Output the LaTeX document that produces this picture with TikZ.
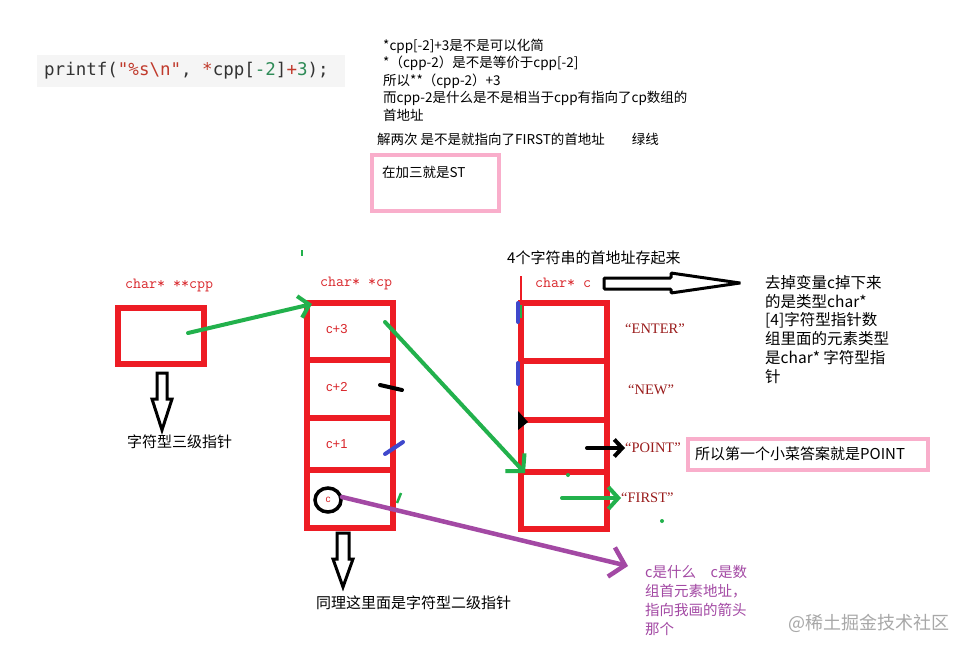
\documentclass[tikz,border=0pt]{standalone}
\usepackage{fontspec}
\setmainfont{Noto Sans CJK SC}
\newfontfamily\monof{DejaVu Sans Mono}
\newfontfamily\serf{Liberation Serif}
\newfontfamily\sansf{Liberation Sans}
\usetikzlibrary{arrows.meta}
\definecolor{pred}{HTML}{ED1C24}
\definecolor{pgreen}{HTML}{22B14C}
\definecolor{ppurple}{HTML}{A349A4}
\definecolor{pblue}{HTML}{3F48CC}
\definecolor{ppink}{HTML}{F9AECB}
\definecolor{lblred}{HTML}{D9262B}
\definecolor{strred}{HTML}{9A1C1C}
\definecolor{codebg}{HTML}{F5F5F5}
\definecolor{codedark}{HTML}{333333}
\definecolor{codered}{HTML}{C0392B}
\definecolor{codegreen}{HTML}{2E8B57}
\definecolor{wmgray}{HTML}{A8A8A8}
\tikzset{
  lbl/.style={inner sep=0pt, anchor=west},
  cjk/.style={lbl, font=\fontsize{15}{19}\selectfont},
  redlbl/.style={lbl, text=lblred, font=\ttfamily\fontsize{15.5}{15.5}\selectfont},
  celllbl/.style={lbl, text=lblred, font=\sansf\fontsize{13}{13}\selectfont},
  strlbl/.style={lbl, text=strred, font=\serf\fontsize{14.5}{14.5}\selectfont},
  redframe/.style={draw=pred, line width=6pt},
  pinkframe/.style={draw=ppink, line width=4pt},
  garrow/.style={draw=pgreen, line width=4pt, line cap=round, -{Straight Barb[length=10pt,width=22pt,line width=4pt]}},
  parrow/.style={draw=ppurple, line width=4.5pt, line cap=round, -{Straight Barb[length=14pt,width=30pt,line width=4.5pt]}},
  karrow/.style={draw=black, line width=4pt, line cap=round, -{Straight Barb[length=8pt,width=17pt,line width=4pt]}},
  stroke/.style={line width=4pt, line cap=round},
  hollow/.style={draw=black, line width=3pt, line join=miter, fill=white}
}
\begin{document}
\begin{tikzpicture}[x=1pt,y=-1pt]
\useasboundingbox[fill=white] (0,0) rectangle (968,654);

% code line
\fill[codebg] (37,55) rectangle (345,87);
\node[lbl, font=\monof\fontsize{17.5}{17.5}\selectfont] (code) at (44,71)
 {{\color{codedark}printf(}{\color{codered}"\%s\textbackslash n"}{\color{codedark}, }{\color{codered}*}{\color{codedark}cpp[}{\color{codegreen}-2}{\color{codedark}]}{\color{codered}+}{\color{codegreen}3}{\color{codedark});}};

% top notes
\node[inner sep=0pt, anchor=north west, align=left, font=\fontsize{13.5}{17.5}\selectfont] (notes) at (383,38.5)
 {*cpp[-2]+3是不是可以化简\\*（cpp-2）是不是等价于cpp[-2]\\所以**（cpp-2）+3\\而cpp-2是什么是不是相当于cpp有指向了cp数组的\\首地址};
\node[lbl, font=\fontsize{13.5}{13.5}\selectfont] (twice) at (377,139) {解两次 是不是就指向了FIRST的首地址\qquad 绿线};
\draw[pinkframe] (372,155) rectangle (499,211);
\node[lbl, font=\fontsize{13.5}{13.5}\selectfont] (plus3) at (382,172) {在加三就是ST};

% cpp
\node[redlbl] (cpplbl) at (125,285) {char* **cpp};
\node[redframe, minimum width=86pt, minimum height=56pt, inner sep=0pt] (cppbox) at (161,336) {};
\draw[hollow] (157,373) -- (167,373) -- (167,399) -- (172,399) -- (162,430) -- (152,399) -- (157,399) -- cycle;
\node[cjk] (lvl3) at (127,442) {字符型三级指针};

% cp array
\draw[pgreen, line width=1.5pt] (302,250) -- (302,256);
\node[redlbl] (cplbl) at (320,283) {char* *cp};
\draw[redframe] (307,303) rectangle (393,528);
\draw[redframe] (307,360) -- (393,360) (307,418) -- (393,418) (307,470) -- (393,470);
\node[celllbl] (c3) at (326,329) {c+3};
\node[celllbl] (c2) at (326,387) {c+2};
\node[celllbl] (c1) at (326,444) {c+1};
\node[celllbl, font=\sansf\fontsize{10}{10}\selectfont, anchor=center] (c0) at (328,500) {c};
\draw[black, line width=3.5pt] (c0) ellipse (13pt and 12pt);
\draw[stroke, black] (380,385) -- (402,390);
\draw[stroke, pblue] (385,454) -- (403,442);
\draw[pgreen, line width=2.5pt] (397,503) -- (401,493);
\draw[hollow] (337,533) -- (349,533) -- (349,559) -- (353,559) -- (343,587) -- (333,559) -- (337,559) -- cycle;
\node[cjk] (lvl2) at (316,603) {同理这里面是字符型二级指针};

% c array
\node[cjk] (store) at (507,258) {4个字符串的首地址存起来};
\draw[pred, line width=1.5pt] (521,276) -- (521,300);
\node[redlbl] (clbl) at (535,283) {char* c};
\draw[redframe] (521,303) rectangle (607,529);
\draw[redframe] (521,361) -- (607,361) (521,420) -- (607,420) (521,472) -- (607,472);
\draw[stroke, pblue] (518,303) -- (518,322);
\draw[pgreen, line width=1.5pt] (521,305) -- (521,318);
\draw[stroke, pblue] (518,363) -- (518,384);
\fill[black] (518,411) -- (528,422) -- (518,430) -- cycle;
\node[strlbl] (enter) at (625,329) {“ENTER”};
\node[strlbl] (new) at (628,390) {“NEW”};
\node[strlbl] (point) at (625,448) {“POINT”};
\node[strlbl] (first) at (621,498) {“FIRST”};
\fill[pgreen] (568,475) circle (2pt) (662,521) circle (2pt);

% right hollow arrow and explanation
\draw[hollow, rounded corners=1pt] (604,278) -- (671,278) -- (671,273) -- (740,283) -- (671,293) -- (671,289) -- (604,289) -- cycle;
\node[inner sep=0pt, anchor=north west, align=left, font=\fontsize{15.5}{18.8}\selectfont] (expl) at (765,275)
 {去掉变量c掉下来\\的是类型char*\\{}[4]字符型指针数\\组里面的元素类型\\是char* 字符型指\\针};

% answer box
\draw[pinkframe] (688,439) rectangle (928,470);
\node[cjk] (answer) at (695,454) {所以第一个小菜答案就是POINT};

% purple note
\node[inner sep=0pt, anchor=north west, align=left, text=ppurple, font=\fontsize{14.5}{19}\selectfont] (cnote) at (645,565)
 {c是什么\quad c是数\\组首元素地址，\\指向我画的箭头\\那个};
\node[lbl, text=wmgray, font=\fontsize{18}{18}\selectfont] (wm) at (788,623) {@稀土掘金技术社区};

% connectors
\coordinate (g1s) at (188,333);
\coordinate (g1e) at (312,304);
\draw[garrow] (g1s) -- (g1e);
\coordinate (g2s) at (385,322);
\coordinate (g2e) at (525,473);
\draw[garrow, -{Straight Barb[length=12pt,width=26pt,line width=4pt]}] (g2s) -- (g2e);
\coordinate (pstart) at (342,497);
\coordinate (pend) at (628,566);
\draw[parrow] (pstart) -- (pend);
\coordinate (ks) at (587,448);
\draw[karrow] (ks) -- (point.west);
\coordinate (gs3) at (562,498);
\draw[garrow] (gs3) -- (first.west);
\end{tikzpicture}
\end{document}
